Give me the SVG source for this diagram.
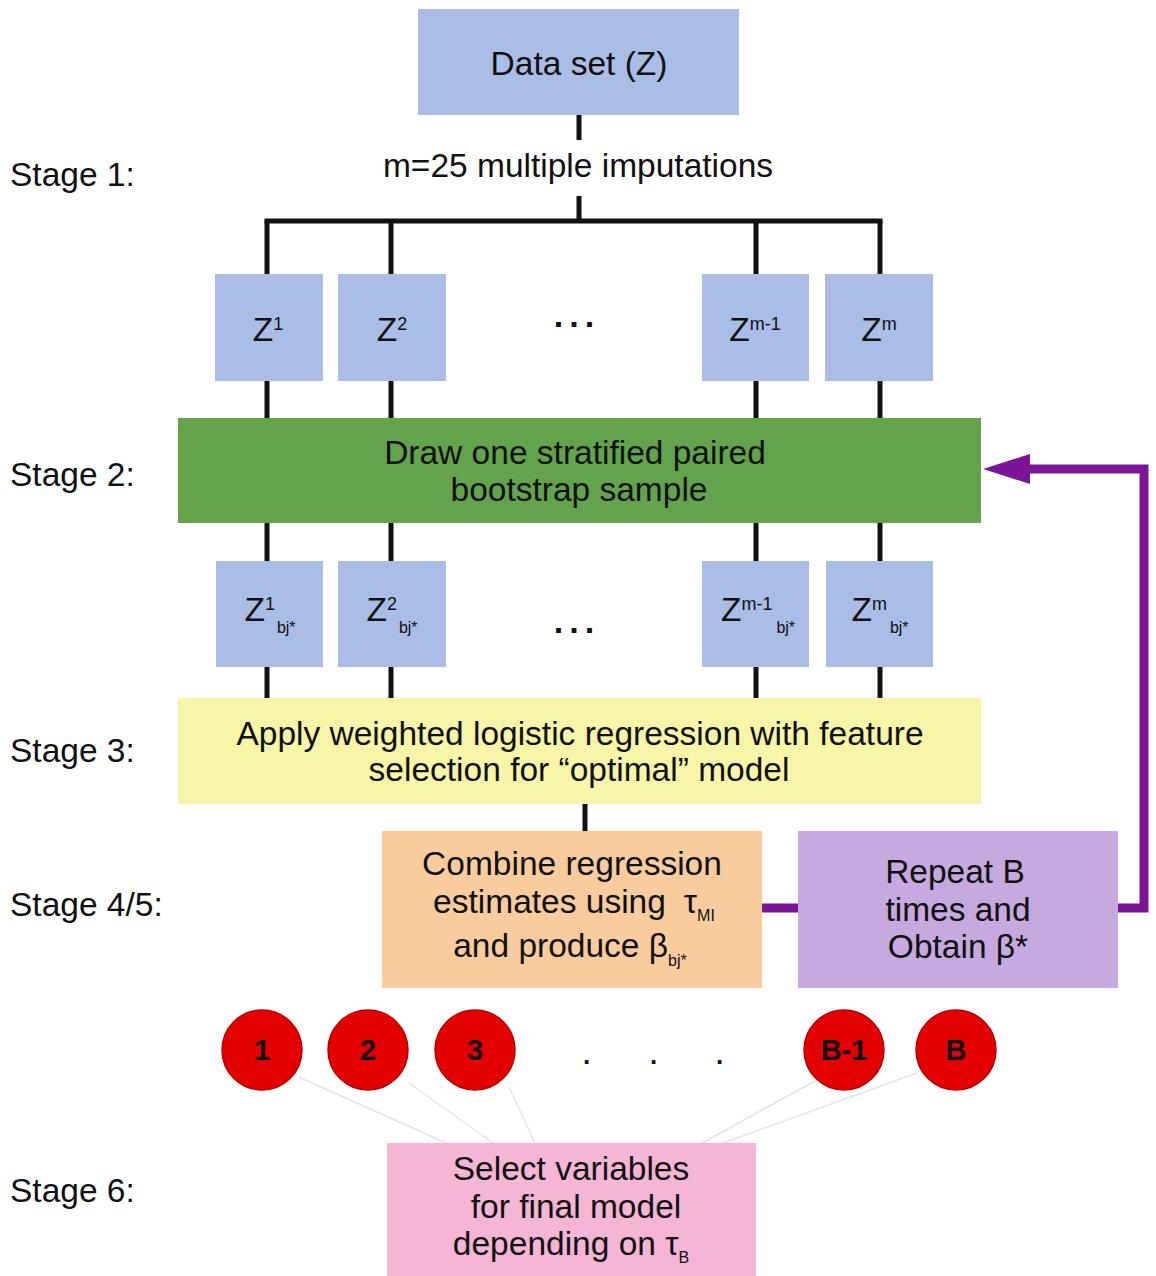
<svg xmlns="http://www.w3.org/2000/svg" width="1156" height="1276" viewBox="0 0 1156 1276">
  <style>
    text { font-family: "Liberation Sans", Arial, sans-serif; fill: #111; }
    .lbl { font-size: 33.5px; }
    .mid { text-anchor: middle; }
    .blue { fill: #a9bde7; }
    .link { stroke: #111; stroke-width: 5; fill: none; }
    .loop { stroke: #7b1497; stroke-width: 9; fill: none; }
    .faint { stroke: #e4e4e4; stroke-width: 1.5; fill: none; }
    .ball { fill: #e30000; stroke: #b80000; stroke-width: 1.5; }
    .num { font-size: 29px; font-weight: bold; text-anchor: middle; }
    .sup { font-size: 18px; }
    .sub { font-size: 16px; }
  </style>
  <rect width="1156" height="1276" fill="#ffffff"/>

  <!-- stage captions -->
  <g id="stage-labels" class="lbl">
    <text x="10" y="186">Stage 1:</text>
    <text x="10" y="486">Stage 2:</text>
    <text x="10" y="762">Stage 3:</text>
    <text x="10" y="916">Stage 4/5:</text>
    <text x="10" y="1202">Stage 6:</text>
  </g>

  <!-- connectors -->
  <g id="connectors">
    <path class="link" d="M579,115 V140 M579,196 V221 M264.5,221 H882.5"/>
    <path class="link" d="M267,221 V274 M391,221 V274 M756,221 V274 M880,221 V274"/>
    <path class="link" d="M267,381 V418 M391,381 V418 M756,381 V418 M880,381 V418"/>
    <path class="link" d="M267,523 V561 M391,523 V561 M756,523 V561 M880,523 V561"/>
    <path class="link" d="M267,667 V698 M391,667 V698 M756,667 V698 M880,667 V698"/>
    <path class="link" d="M585,804 V831"/>
    <path class="loop" d="M762,908 H798"/>
    <path class="loop" d="M1118,908 H1144 V469 H1026"/>
    <polygon fill="#7b1497" points="983,469 1030,454 1030,484"/>
    <path class="faint" d="M299,1077 L446,1143 M409,1083 L493,1143 M509,1087 L535,1143 M817,1080 L702,1143 M917,1073 L723,1143"/>
  </g>

  <g id="dataset">
    <rect class="blue" x="418" y="9" width="321" height="106"/>
    <text class="lbl mid" x="579" y="75">Data set (Z)</text>
  </g>

  <g id="imputations">
    <text class="lbl mid" x="578" y="177">m=25 multiple imputations</text>
  </g>

  <!-- imputed data sets -->
  <g id="z1">
    <rect class="blue" x="215" y="274" width="108" height="107"/>
    <text class="lbl mid" x="268" y="341">Z<tspan class="sup" dy="-11">1</tspan></text>
  </g>
  <g id="z2">
    <rect class="blue" x="338" y="274" width="108" height="107"/>
    <text class="lbl mid" x="392" y="341">Z<tspan class="sup" dy="-11">2</tspan></text>
  </g>
  <g id="z-dots">
    <text class="mid" x="577" y="327" style="font-size:34px;font-weight:bold;letter-spacing:6px">...</text>
  </g>
  <g id="zm1">
    <rect class="blue" x="702" y="274" width="107" height="107"/>
    <text class="lbl mid" x="755" y="341">Z<tspan class="sup" dy="-11">m-1</tspan></text>
  </g>
  <g id="zm">
    <rect class="blue" x="825" y="274" width="108" height="107"/>
    <text class="lbl mid" x="879" y="341">Z<tspan class="sup" dy="-11">m</tspan></text>
  </g>

  <g id="bootstrap">
    <rect x="178" y="418" width="803" height="105" fill="#63a34c"/>
    <text class="lbl mid" x="575" y="464">Draw one stratified paired</text>
    <text class="lbl mid" x="579" y="501">bootstrap sample</text>
  </g>

  <!-- bootstrap samples -->
  <g id="zb1">
    <rect class="blue" x="216" y="561" width="107" height="106"/>
    <text class="lbl mid" x="270" y="621">Z<tspan class="sup" dy="-11">1</tspan><tspan class="sub" dy="23" dx="2">bj*</tspan></text>
  </g>
  <g id="zb2">
    <rect class="blue" x="338" y="561" width="108" height="106"/>
    <text class="lbl mid" x="392" y="621">Z<tspan class="sup" dy="-11">2</tspan><tspan class="sub" dy="23" dx="2">bj*</tspan></text>
  </g>
  <g id="zb-dots">
    <text class="mid" x="577" y="633" style="font-size:34px;font-weight:bold;letter-spacing:6px">...</text>
  </g>
  <g id="zbm1">
    <rect class="blue" x="702" y="561" width="107" height="106"/>
    <text class="lbl mid" x="758" y="621">Z<tspan class="sup" dy="-11">m-1</tspan><tspan class="sub" dy="23" dx="4">bj*</tspan></text>
  </g>
  <g id="zbm">
    <rect class="blue" x="826" y="561" width="107" height="106"/>
    <text class="lbl mid" x="880" y="621">Z<tspan class="sup" dy="-11">m</tspan><tspan class="sub" dy="23" dx="3">bj*</tspan></text>
  </g>

  <g id="regression">
    <rect x="178" y="698" width="803" height="106" fill="#f8f5a9"/>
    <text class="lbl mid" x="580" y="745">Apply weighted logistic regression with feature</text>
    <text class="lbl mid" x="579" y="781">selection for “optimal” model</text>
  </g>

  <g id="combine">
    <rect x="382" y="831" width="380" height="157" fill="#f9cc9e"/>
    <text class="lbl mid" x="572" y="875">Combine regression</text>
    <text class="lbl mid" x="574" y="913">estimates using<tspan dx="18">τ</tspan><tspan class="sub" dy="8">MI</tspan></text>
    <text class="lbl mid" x="570" y="957">and produce β<tspan class="sub" dy="9">bj*</tspan></text>
  </g>

  <g id="repeat">
    <rect x="798" y="831" width="320" height="157" fill="#c6a9de"/>
    <text class="lbl mid" x="955" y="883">Repeat B</text>
    <text class="lbl mid" x="958" y="921">times and</text>
    <text class="lbl mid" x="958" y="958">Obtain β*</text>
  </g>

  <!-- bootstrap replicates -->
  <g id="b1"><circle class="ball" cx="262" cy="1050" r="40"/><text class="num" x="262" y="1060">1</text></g>
  <g id="b2"><circle class="ball" cx="368" cy="1050" r="40"/><text class="num" x="368" y="1060">2</text></g>
  <g id="b3"><circle class="ball" cx="475" cy="1050" r="40"/><text class="num" x="475" y="1060">3</text></g>
  <g id="b-dots">
    <text x="583 650 716" y="1064" style="font-size:26px;font-weight:bold">...</text>
  </g>
  <g id="bB1"><circle class="ball" cx="844" cy="1050" r="40"/><text class="num" x="844" y="1060">B-1</text></g>
  <g id="bB"><circle class="ball" cx="956" cy="1050" r="40"/><text class="num" x="956" y="1060">B</text></g>

  <g id="select">
    <rect x="387" y="1143" width="369" height="133" fill="#f5b5d4"/>
    <text class="lbl mid" x="571" y="1180">Select variables</text>
    <text class="lbl mid" x="576" y="1218">for final model</text>
    <text class="lbl mid" x="571" y="1255">depending on τ<tspan class="sub" dy="8">B</tspan></text>
  </g>
</svg>
